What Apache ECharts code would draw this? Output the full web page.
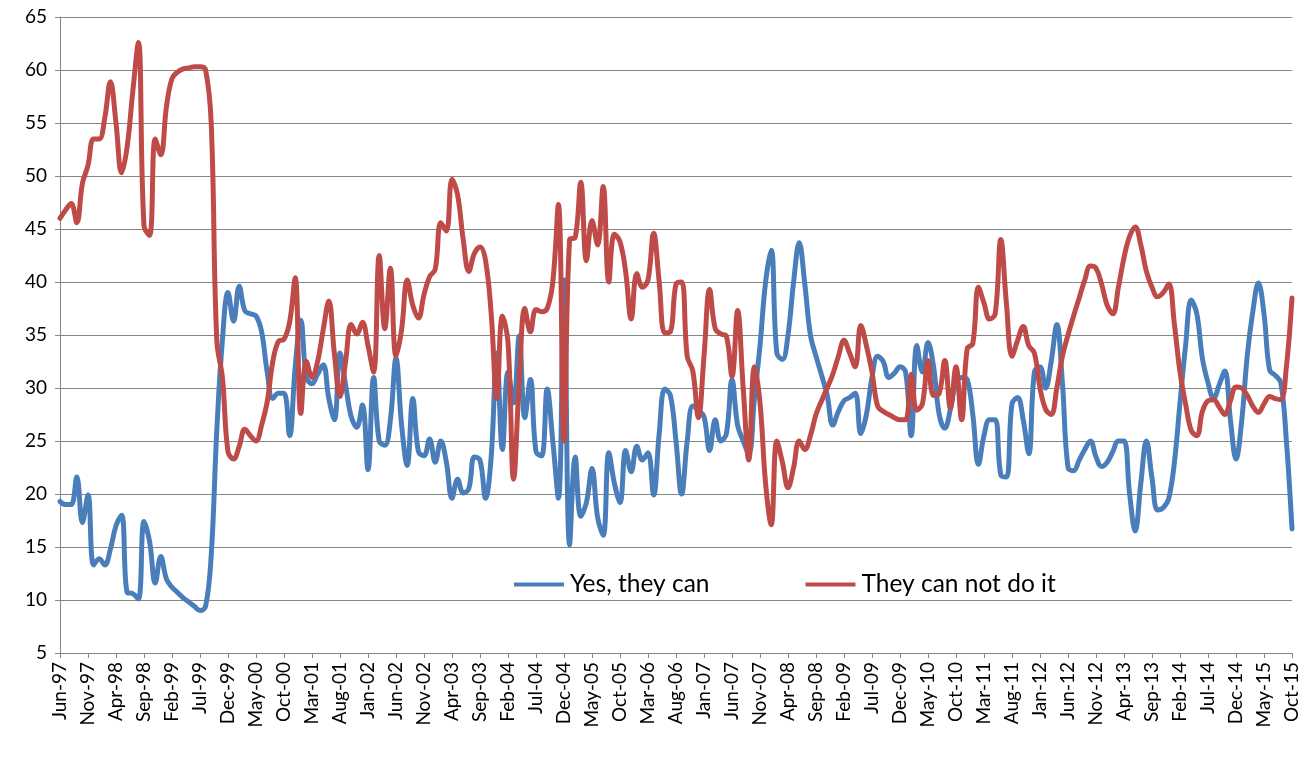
<!DOCTYPE html>
<html>
<head>
<meta charset="utf-8">
<script src="https://cdn.jsdelivr.net/npm/echarts@6/dist/echarts.min.js"></script>
<style>
  html, body { margin: 0; padding: 0; background: #ffffff; }
  #chart { width: 1304px; height: 760px; }
</style>
</head>
<body>
<div id="chart"></div>
<script>
// Monthly survey series, Jun-97 .. Oct-15
const monthNames = ['Jan', 'Feb', 'Mar', 'Apr', 'May', 'Jun', 'Jul', 'Aug', 'Sep', 'Oct', 'Nov', 'Dec'];
const firstMonth = 5;      // June
const firstYear = 1997;
const monthCount = 221;    // through October 2015

const categories = [];
for (let i = 0; i < monthCount; i++) {
  const m = (firstMonth + i) % 12;
  const y = firstYear + Math.floor((firstMonth + i) / 12);
  categories.push(monthNames[m] + '-' + String(y % 100).padStart(2, '0'));
}

const seriesNames = ['Yes, they can', 'They can not do it'];

const yesTheyCan = [
  19.3, 19.0, 19.0, 21.6, 17.3, 19.9, 13.3, 13.9, 13.3, 14.8,
  17.0, 18.0, 10.7, 10.6, 10.1, 17.4, 15.5, 11.6, 14.1, 12.0,
  11.2, 10.7, 10.2, 9.8, 9.4, 9.0, 9.4, 14.2, 26.0, 34.5,
  39.0, 36.3, 39.6, 37.3, 37.0, 36.8, 35.3, 31.5, 29.0, 29.5,
  29.5, 25.5, 32.0, 36.4, 31.0, 30.4, 31.3, 32.2, 29.0, 27.0,
  33.3, 30.3, 27.3, 26.3, 28.4, 22.3, 31.0, 25.0, 24.6, 27.0,
  32.8, 26.5, 22.7, 29.0, 24.0, 23.6, 25.2, 23.0, 25.0, 23.0,
  19.6, 21.4, 20.1, 20.5, 23.5, 23.2, 19.6, 23.5, 33.3, 24.2,
  31.5, 28.6, 34.9, 27.2, 30.8, 24.0, 23.6, 29.9, 25.0, 19.6,
  40.2, 15.2, 23.5, 17.9, 19.2, 22.4, 17.8, 16.1, 23.9, 21.0,
  19.2, 24.1, 22.1, 24.5, 23.2, 23.9, 19.9, 25.7, 29.9, 29.3,
  25.0, 20.0, 25.0, 28.3, 27.9, 27.3, 24.1, 27.0, 25.0, 25.7,
  30.8, 26.5, 25.0, 23.8, 29.0, 34.0, 40.0, 43.0, 33.3, 32.7,
  35.0, 40.0, 43.7, 39.8, 35.0, 33.0, 31.2, 29.3, 26.5, 27.8,
  28.8, 29.1, 29.5, 25.7, 27.5, 31.0, 33.0, 32.5, 31.0, 31.4,
  32.0, 31.5, 25.5, 34.0, 31.5, 34.3, 32.0, 27.5, 26.2, 28.0,
  30.5, 31.0, 30.8, 27.5, 22.8, 25.5, 27.0, 27.0, 21.8, 21.6,
  28.5, 29.1, 27.0, 23.8, 31.5, 32.0, 30.0, 32.5, 36.0, 30.5,
  22.5, 22.2, 23.2, 24.2, 25.0, 23.5, 22.6, 23.0, 24.0, 25.0,
  25.0, 20.0, 16.5, 21.0, 25.0, 21.5, 18.5, 18.7, 19.6, 23.0,
  28.6, 34.0, 38.3, 37.0, 32.8, 30.5, 29.0, 30.3, 31.6, 27.0,
  23.3, 26.8, 33.0, 37.2, 39.9, 37.0, 31.7, 31.2, 30.5, 25.0,
  16.7
];

const theyCanNot = [
  46.0, 46.8, 47.4, 45.6, 49.3, 51.0, 53.5, 53.5, 55.5, 58.9,
  55.0, 50.3, 52.8, 58.0, 62.6, 45.3, 44.4, 53.5, 52.0, 56.5,
  59.2, 59.8, 60.1, 60.2, 60.3, 60.3, 60.0, 55.0, 34.5, 31.0,
  24.0, 23.3, 24.5, 26.1, 25.5, 25.0, 26.5, 28.7, 32.5, 34.4,
  34.6, 36.2, 40.4, 27.6, 32.5, 31.0, 32.5, 35.5, 38.2, 33.2,
  29.2, 32.5, 36.0, 35.1, 36.2, 34.0, 31.5, 42.5, 35.6, 41.3,
  33.0, 35.5, 40.2, 37.8, 36.6, 38.8, 40.5, 41.2, 45.6, 44.8,
  49.7, 48.2, 44.0, 41.0, 42.7, 43.3, 42.0, 37.0, 29.0, 36.8,
  34.3, 21.4, 30.5, 37.5, 35.3, 37.4, 37.2, 37.5, 40.0, 47.3,
  25.0, 44.0, 44.2, 49.4, 42.0, 45.8, 43.5, 49.0, 40.0, 44.5,
  43.8, 41.0, 36.5, 40.8, 39.5, 40.2, 44.6, 40.0, 35.2, 35.3,
  39.8, 40.0, 33.0, 31.6, 27.2, 33.0, 39.3, 35.6, 35.1, 34.9,
  31.1, 37.3, 30.0, 23.2, 32.0, 28.6, 21.0, 17.1, 25.0, 23.0,
  20.6, 22.5, 25.0, 24.2, 25.5, 27.5, 28.8, 30.0, 31.3, 33.0,
  34.5, 33.3, 32.0, 35.9, 34.0, 31.5, 28.3, 27.8, 27.5, 27.2,
  27.0, 27.0, 31.3, 27.9, 28.5, 32.6, 29.3, 29.5, 32.6, 28.1,
  32.0, 27.0, 33.7, 34.2, 39.5, 38.0, 36.5, 37.0, 44.0, 38.0,
  33.0, 34.5, 35.8, 34.0, 33.3, 30.0, 28.0, 27.5, 30.0, 33.0,
  35.0, 36.8, 38.5, 40.2, 41.5, 41.3, 39.8, 37.8, 37.0, 39.5,
  42.3, 44.3, 45.2, 43.5, 41.0, 39.5, 38.6, 39.0, 39.8, 36.0,
  31.5, 28.5, 26.0, 25.5, 27.8, 28.8, 28.9, 28.2, 27.5, 28.8,
  30.1, 30.0, 29.3, 28.3, 27.7, 28.5, 29.2, 29.0, 28.9, 32.0,
  38.5
];

const yMin = 5;
const yMax = 65;
const yStep = 5;

const blue = '#4A7EBB';
const red = '#BE4B48';
const gridGrey = '#868686';
const fontFamily = 'Lato, "Open Sans", sans-serif';

const chart = echarts.init(document.getElementById('chart'), null, { renderer: 'canvas' });

function lineSeries(name, data, color) {
  return {
    name: name,
    type: 'line',
    data: data,
    smooth: 0.4,
    showSymbol: false,
    symbol: 'none',
    lineStyle: { color: color, width: 5, cap: 'round', join: 'round' },
    itemStyle: { color: color },
    emphasis: { disabled: true },
    z: 3
  };
}

chart.setOption({
  animation: false,
  backgroundColor: '#ffffff',
  grid: { left: 60, right: 12, top: 17, bottom: 107, containLabel: false },
  legend: {
    data: seriesNames,
    icon: 'rect',
    left: 509,
    top: 567,
    itemWidth: 50,
    itemHeight: 4,
    itemGap: 96,
    textStyle: { fontFamily: fontFamily, fontSize: 24.5, color: '#000000', padding: [0, 0, 0, 1] }
  },
  xAxis: {
    type: 'category',
    data: categories,
    boundaryGap: false,
    axisLine: { lineStyle: { color: gridGrey, width: 1 } },
    axisTick: { show: true, interval: 4, length: 5, lineStyle: { color: gridGrey } },
    axisLabel: {
      interval: 4,
      rotate: 90,
      margin: 9,
      fontFamily: fontFamily,
      fontSize: 19,
      color: '#000000'
    },
    splitLine: { show: false }
  },
  yAxis: {
    type: 'value',
    min: yMin,
    max: yMax,
    interval: yStep,
    axisLine: { show: true, lineStyle: { color: gridGrey, width: 1 } },
    axisTick: { show: true, length: 5, lineStyle: { color: gridGrey } },
    axisLabel: { fontFamily: fontFamily, fontSize: 19, color: '#000000', margin: 13 },
    splitLine: { show: true, lineStyle: { color: gridGrey, width: 1 } }
  },
  series: [
    lineSeries(seriesNames[0], yesTheyCan, blue),
    lineSeries(seriesNames[1], theyCanNot, red)
  ]
});
</script>
</body>
</html>
